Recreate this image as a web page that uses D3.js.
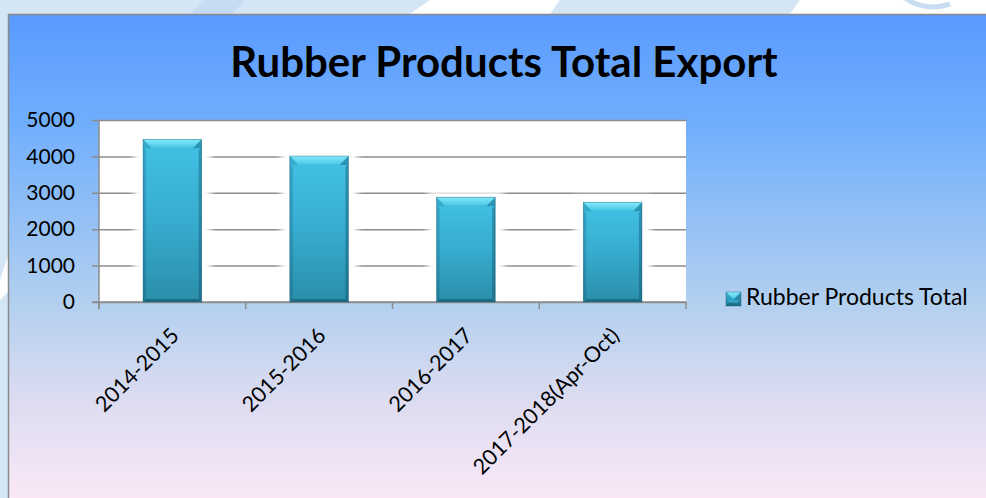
<!DOCTYPE html>
<html>
<head>
<meta charset="utf-8">
<script src="https://cdn.jsdelivr.net/npm/d3@7/dist/d3.min.js"></script>
<style>
  html, body { margin: 0; padding: 0; background: #ffffff; }
  svg { display: block; }
  text { font-family: Lato, "Open Sans", sans-serif; fill: #000; }
</style>
</head>
<body>
<svg id="chart" width="986" height="498"></svg>
<script>
// Export totals by fiscal year
const categories = ["2014-2015", "2015-2016", "2016-2017", "2017-2018(Apr-Oct)"];
const seriesName = "Rubber Products Total";
const values = [4470, 4010, 2880, 2740];
const yTicks = [0, 1000, 2000, 3000, 4000, 5000];
const title = "Rubber Products Total Export";

const W = 986, H = 498;
const svg = d3.select("#chart");
const defs = svg.append("defs");

// page background with faint diagonal bands
svg.append("rect").attr("width", W).attr("height", H).attr("fill", "#ffffff");
const band = "#d4e5f6";
[
  [[0,0],[430,0],[410,14],[0,14]],
  [[560,0],[800,0],[790,14],[550,14]],
  [[0,14],[10,14],[10,250],[0,280]],
  [[0,300],[10,290],[10,498],[0,498]]
].forEach(p => svg.append("polygon").attr("points", p.join(" ")).attr("fill", band));
svg.append("polygon").attr("points", "205,0 245,0 232,14 190,14").attr("fill", "#c6dcf3");
svg.append("path").attr("d", "M905,-2 Q925,12 950,4").attr("fill", "none")
  .attr("stroke", "#c9ddf2").attr("stroke-width", 5);

// chart frame gradient
const fg = defs.append("linearGradient").attr("id", "frameGrad")
  .attr("gradientUnits", "userSpaceOnUse").attr("x1", 0).attr("y1", 14).attr("x2", 0).attr("y2", 498);
[[0, "#5a9aff"], [0.22, "#6faefd"], [0.6, "#b3d0ef"], [0.8, "#dddcf1"], [1, "#fae8f7"]]
  .forEach(([o, c]) => fg.append("stop").attr("offset", o).attr("stop-color", c));

svg.append("rect").attr("x", 8.5).attr("y", 14.5).attr("width", 1000).attr("height", 500)
  .attr("fill", "url(#frameGrad)").attr("stroke", "#8a8a8a").attr("stroke-width", 1.5);

// title
svg.append("text").attr("x", 504).attr("y", 77).attr("text-anchor", "middle")
  .attr("font-weight", "bold").attr("font-size", 42).text(title);

// plot area
const plot = { left: 99, right: 686, top: 120, bottom: 302 };
const x = d3.scaleBand().domain(categories).range([plot.left, plot.right]).paddingInner(0.6).paddingOuter(0.3);
const xb = d3.scaleBand().domain(categories).range([plot.left, plot.right]);
const y = d3.scaleLinear().domain([0, 5000]).range([plot.bottom, plot.top]);

svg.append("rect").attr("x", plot.left).attr("y", plot.top)
  .attr("width", plot.right - plot.left).attr("height", plot.bottom - plot.top).attr("fill", "#ffffff");

const gridColor = "#8c8c8c";
// gridlines with tick marks
const yAxis = d3.axisLeft(y).tickValues(yTicks).tickFormat(d3.format("d"))
  .tickSize(-(plot.right - plot.left)).tickSizeOuter(0).tickPadding(24);
const gy = svg.append("g").attr("transform", `translate(${plot.left},0)`).call(yAxis);
gy.select(".domain").remove();
gy.selectAll(".tick line").attr("x1", -7).attr("stroke", gridColor).attr("stroke-width", 1.5);
gy.selectAll(".tick text").attr("font-size", 21).attr("font-family", "Lato, sans-serif").attr("fill", "#000");

// soft white halo behind bars
const halo = defs.append("filter").attr("id", "halo").attr("x", "-50%").attr("y", "-20%").attr("width", "200%").attr("height", "140%");
halo.append("feGaussianBlur").attr("stdDeviation", 3);
svg.append("g").selectAll("rect").data(values).join("rect")
  .attr("x", (d, i) => x(categories[i]) - 9)
  .attr("y", d => y(d) - 6)
  .attr("width", x.bandwidth() + 18)
  .attr("height", d => y(0) - y(d) + 2)
  .attr("fill", "#ffffff").attr("filter", "url(#halo)");

// axes lines
svg.append("line").attr("x1", plot.left).attr("x2", plot.left).attr("y1", plot.top).attr("y2", plot.bottom + 7)
  .attr("stroke", gridColor).attr("stroke-width", 1.5);
svg.append("line").attr("x1", plot.left - 7).attr("x2", plot.right).attr("y1", plot.bottom).attr("y2", plot.bottom)
  .attr("stroke", gridColor).attr("stroke-width", 1.5);
const xEdges = categories.map(c => xb(c)).concat([plot.right]);
svg.append("g").selectAll("line").data(xEdges).join("line")
  .attr("x1", d => d).attr("x2", d => d).attr("y1", plot.bottom).attr("y2", plot.bottom + 7)
  .attr("stroke", gridColor).attr("stroke-width", 1.5);

// bar gradients
const bodyGrad = defs.append("linearGradient").attr("id", "barBody").attr("x1", 0).attr("y1", 0).attr("x2", 0).attr("y2", 1);
[[0, "#42c2e4"], [0.5, "#37acd0"], [1, "#2a8ea9"]].forEach(([o, c]) => bodyGrad.append("stop").attr("offset", o).attr("stop-color", c));
const topGrad = defs.append("linearGradient").attr("id", "topGrad").attr("x1", 0).attr("y1", 0).attr("x2", 0).attr("y2", 1);
[[0, "#86e9fa"], [1, "#4ccae9"]].forEach(([o, c]) => topGrad.append("stop").attr("offset", o).attr("stop-color", c));

function bevelBar(g, bx, by, bw, bh) {
  const t = Math.min(8, bh / 2), s = 3;
  g.append("rect").attr("x", bx).attr("y", by).attr("width", bw).attr("height", bh).attr("fill", "url(#barBody)");
  g.append("polygon").attr("points", [[bx, by + t], [bx + s, by + t + s], [bx + s, by + bh - s], [bx, by + bh]].join(" "))
    .attr("fill", "rgba(10,70,95,0.22)");
  g.append("polygon").attr("points", [[bx + bw, by + t], [bx + bw - s, by + t + s], [bx + bw - s, by + bh - s], [bx + bw, by + bh]].join(" "))
    .attr("fill", "rgba(10,60,85,0.35)");
  g.append("polygon").attr("points", [[bx, by + bh], [bx + s, by + bh - s], [bx + bw - s, by + bh - s], [bx + bw, by + bh]].join(" "))
    .attr("fill", "rgba(10,55,75,0.4)");
  g.append("polygon").attr("points", [[bx, by], [bx + bw, by], [bx + bw - t, by + t], [bx + t, by + t]].join(" "))
    .attr("fill", "url(#topGrad)");
  g.append("polygon").attr("points", [[bx, by], [bx + t, by + t], [bx + t, by + t + 1], [bx, by + t + 1]].join(" "))
    .attr("fill", "rgba(20,110,140,0.25)");
  g.append("polygon").attr("points", [[bx + bw, by], [bx + bw - t, by + t], [bx + bw - t, by + t + 1], [bx + bw, by + t + 1]].join(" "))
    .attr("fill", "rgba(10,70,95,0.35)");
  g.append("rect").attr("x", bx).attr("y", by).attr("width", bw).attr("height", bh)
    .attr("fill", "none").attr("stroke", "rgba(20,90,110,0.6)").attr("stroke-width", 0.6);
}

const bars = svg.append("g");
values.forEach((v, i) => {
  bevelBar(bars.append("g"), x(categories[i]), y(v), x.bandwidth(), y(0) - y(v));
});

// rotated category labels
svg.append("g").selectAll("text").data(categories).join("text")
  .attr("transform", d => `translate(${xb(d) + xb.bandwidth() / 2 + 8},${plot.bottom + 35}) rotate(-45)`)
  .attr("text-anchor", "end").attr("font-size", 21.5).text(d => d);

// legend
const lg = svg.append("g");
bevelBar(lg, 726, 292, 15, 14);
lg.append("text").attr("x", 746).attr("y", 305).attr("font-size", 23).text(seriesName);
</script>
</body>
</html>
